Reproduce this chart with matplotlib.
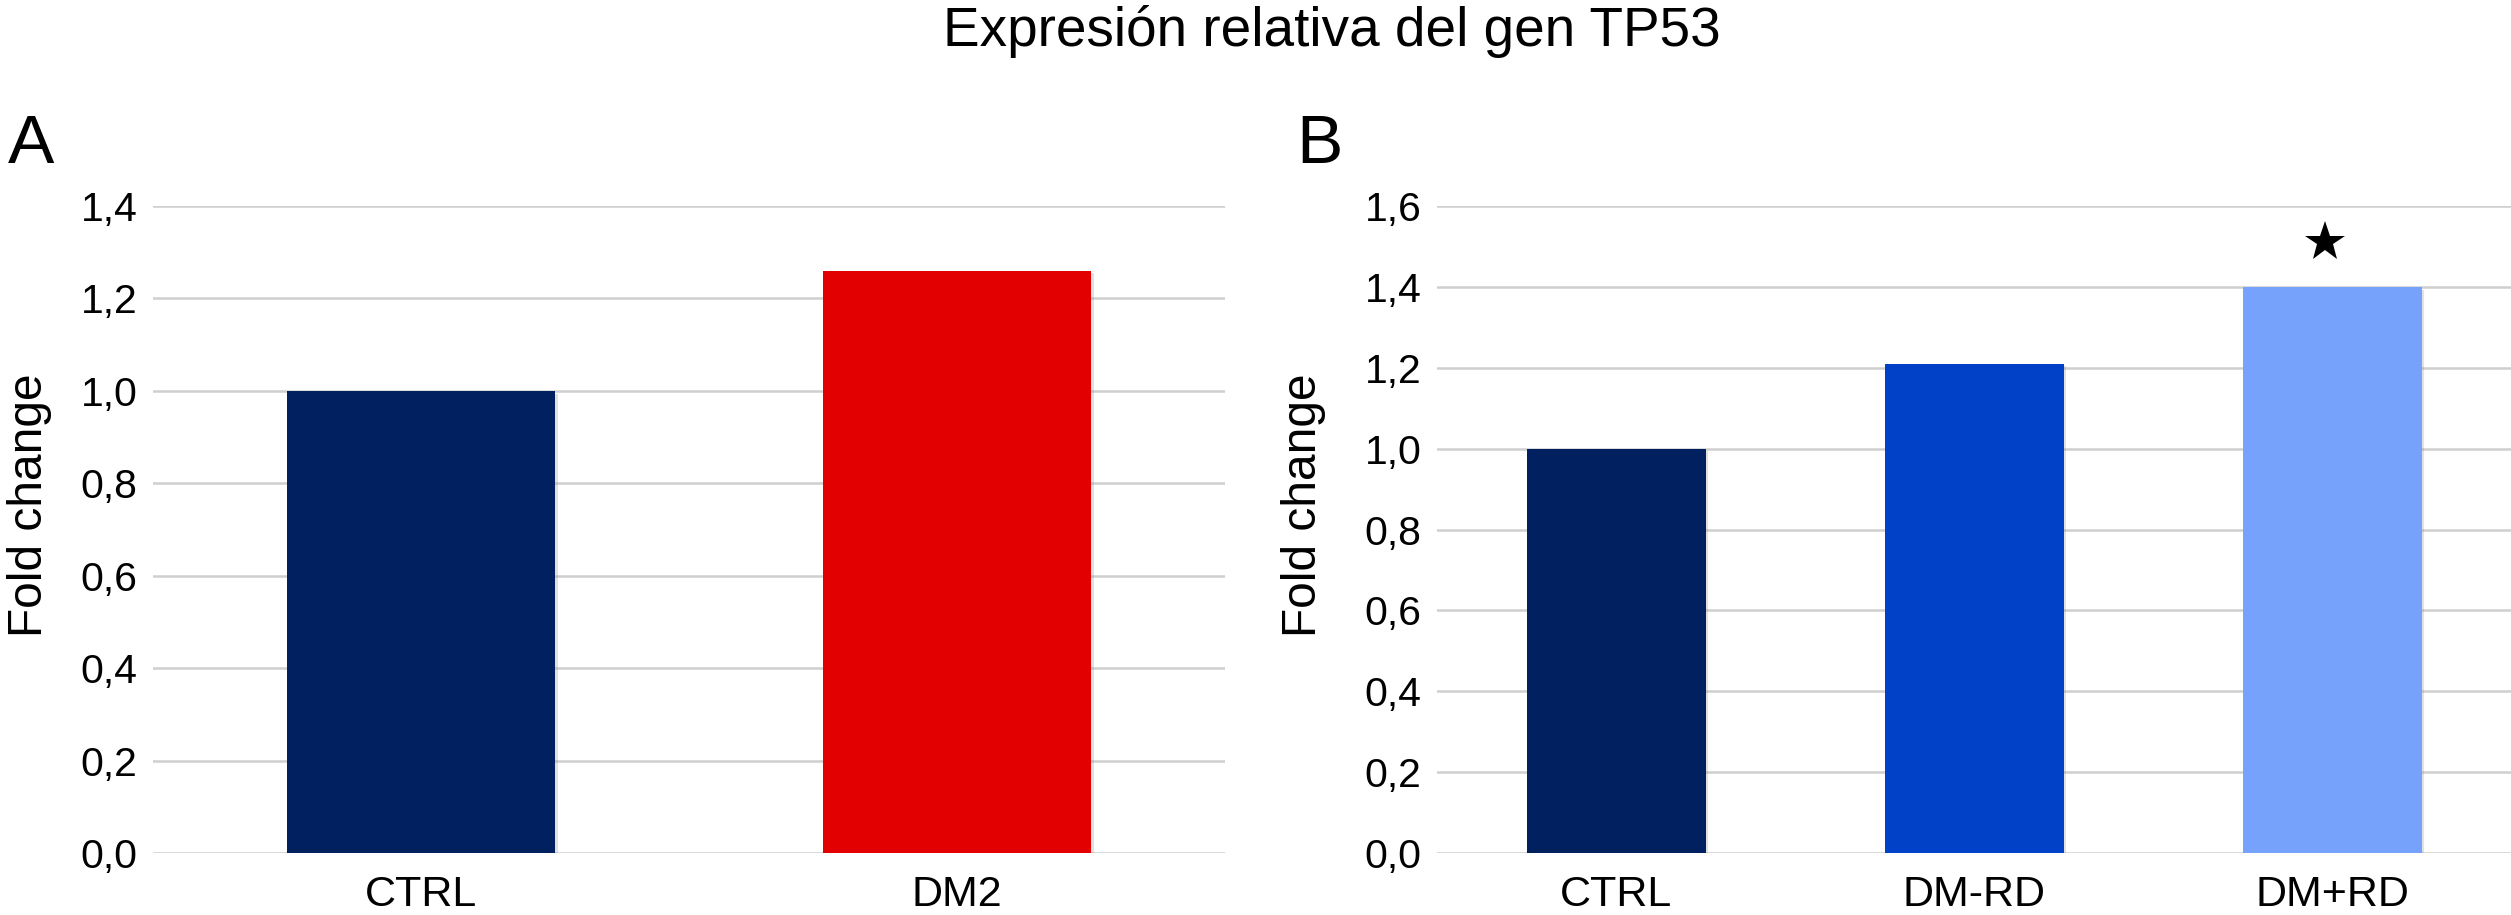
import matplotlib
matplotlib.use("Agg")
import matplotlib.pyplot as plt
import matplotlib.patheffects as pe

plt.rcParams["font.family"] = ["Liberation Sans", "DejaVu Sans"]

# --- data ---
title = "Expresión relativa del gen TP53"
groups_a = ["CTRL", "DM2"]
fold_a = [1.0, 1.26]
colors_a = ["#00205F", "#E30000"]
yticks_a = [0.0, 0.2, 0.4, 0.6, 0.8, 1.0, 1.2, 1.4]

groups_b = ["CTRL", "DM-RD", "DM+RD"]
fold_b = [1.0, 1.21, 1.40]
colors_b = ["#00205F", "#0041C8", "#76A2FC"]
yticks_b = [0.0, 0.2, 0.4, 0.6, 0.8, 1.0, 1.2, 1.4, 1.6]
significant_b = [False, False, True]

W, H = 2511, 915
fig = plt.figure(figsize=(W / 100, H / 100), dpi=100)

grid_color = "#CFCFCF"
shadow = [pe.SimplePatchShadow(offset=(2, -2), shadow_rgbFace="#888888", alpha=0.25), pe.Normal()]


def draw_panel(ax, groups, values, colors, yticks, letter, letter_x):
    x = range(len(groups))
    bars = ax.bar(x, values, width=0.5, color=colors, zorder=3)
    for b in bars:
        b.set_path_effects(shadow)
    ax.set_xlim(-0.5, len(groups) - 0.5)
    ax.set_ylim(yticks[0], yticks[-1])
    ax.set_yticks(yticks)
    ax.set_yticklabels([f"{t:.1f}".replace(".", ",") for t in yticks])
    ax.set_xticks(list(x))
    ax.set_xticklabels(groups)
    ax.yaxis.grid(True, color=grid_color, linewidth=1.8, zorder=0)
    ax.set_axisbelow(True)
    for s in ax.spines.values():
        s.set_visible(False)
    ax.tick_params(axis="y", length=0, pad=11, labelsize=29.5)
    ax.tick_params(axis="x", length=0, pad=16, labelsize=31)
    ax.set_ylabel("Fold change", fontsize=34.5)
    fig.text(letter_x, 1 - 113 / H, letter, fontsize=50, ha="left", va="top")
    return bars


bottom = (H - 853) / H
height = (853 - 206) / H

ax_a = fig.add_axes([153 / W, bottom, 1072 / W, height])
draw_panel(ax_a, groups_a, fold_a, colors_a, yticks_a, "A", 8 / W)
ax_a.yaxis.set_label_coords(-0.094, 0.538)

ax_b = fig.add_axes([1437 / W, bottom, 1074 / W, height])
draw_panel(ax_b, groups_b, fold_b, colors_b, yticks_b, "B", 1296 / W)
ax_b.yaxis.set_label_coords(-0.103, 0.538)

# significance star above DM+RD
for i, (v, sig) in enumerate(zip(fold_b, significant_b)):
    if sig:
        ax_b.plot(i - 0.02, v + 0.11, marker="*", color="black", markersize=30,
                  markeredgewidth=0, zorder=4, clip_on=False)

fig.text((153 + W) / 2 / W, 1 - 5 / H, title, fontsize=39.5, ha="center", va="top")

fig.savefig("out.png", dpi=100, facecolor="white")
